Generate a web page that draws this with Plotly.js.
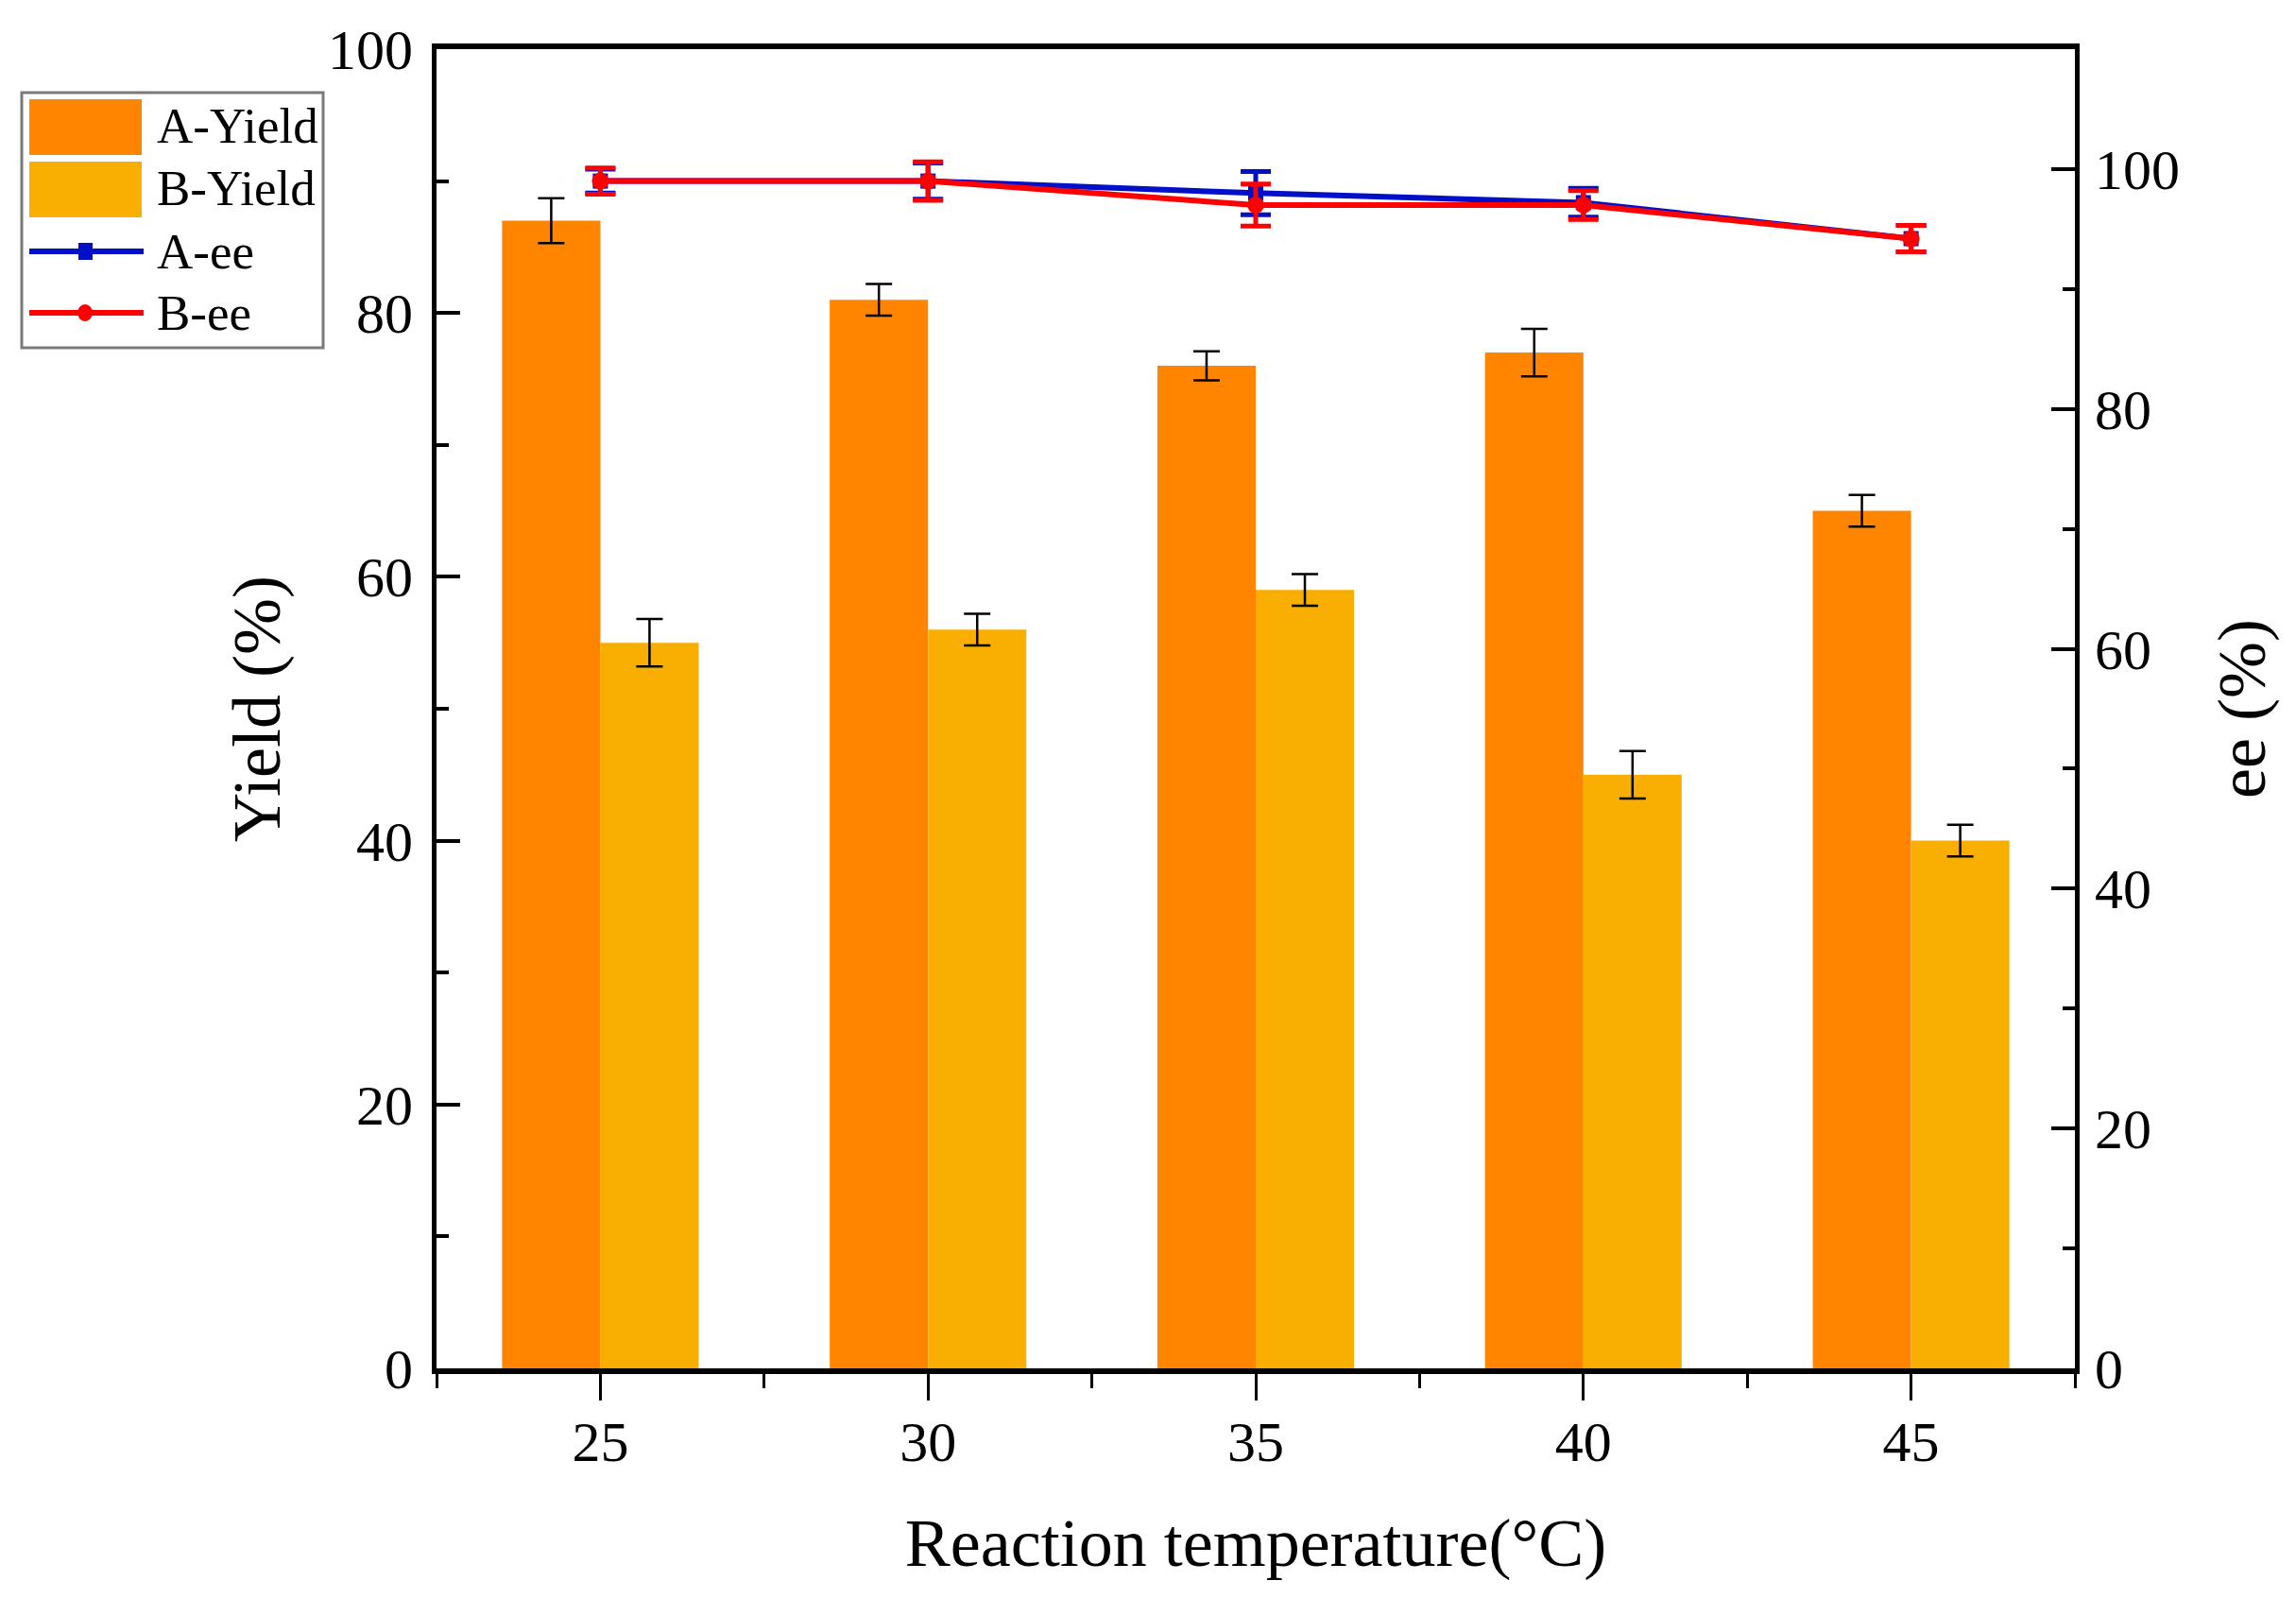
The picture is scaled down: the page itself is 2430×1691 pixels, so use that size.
<!DOCTYPE html>
<html>
<head>
<meta charset="utf-8">
<script src="https://cdn.plot.ly/plotly-3.0.1.min.js"></script>
<style>html,body{margin:0;padding:0;background:#fff;}#chart{width:2430px;height:1691px;}</style>
</head>
<body>
<div id="chart"></div>
<script>
const temperatures = [25, 30, 35, 40, 45];
const aYield = [87, 81, 76, 77, 65];
const aYieldErr = [1.7, 1.2, 1.1, 1.8, 1.2];
const bYield = [55, 56, 59, 45, 40];
const bYieldErr = [1.8, 1.2, 1.2, 1.8, 1.2];
const aEE = [99, 99, 98, 97.2, 94.2];
const aEEErr = [1.0, 1.5, 1.8, 1.2, 1.1];
const bEE = [99, 99, 97, 97, 94.2];
const bEEErr = [1.1, 1.6, 1.75, 1.2, 1.1];
const xTickVals = [25, 30, 35, 40, 45];
const xTickText = ['25', '30', '35', '40', '45'];
const yTickVals = [0, 20, 40, 60, 80, 100];
const y2TickVals = [0, 20, 40, 60, 80, 100];
const legendNames = ['A-Yield', 'B-Yield', 'A-ee', 'B-ee'];

const FONT = 'Liberation Serif, Times New Roman, serif';
const COL_A = '#ff8400', COL_B = '#f9ae02', COL_AEE = '#0010c8', COL_BEE = '#ff0000';

const traces = [
  {
    type: 'bar', name: legendNames[0], x: temperatures, y: aYield,
    marker: {color: COL_A},
    error_y: {type: 'data', array: aYieldErr, visible: true, color: '#000', thickness: 2.5, width: 14},
    xaxis: 'x', yaxis: 'y'
  },
  {
    type: 'bar', name: legendNames[1], x: temperatures, y: bYield,
    marker: {color: COL_B},
    error_y: {type: 'data', array: bYieldErr, visible: true, color: '#000', thickness: 2.5, width: 14},
    xaxis: 'x', yaxis: 'y'
  },
  {
    type: 'scatter', mode: 'lines+markers', name: legendNames[2], x: temperatures, y: aEE,
    line: {color: COL_AEE, width: 6},
    marker: {symbol: 'square', size: 16, color: COL_AEE},
    error_y: {type: 'data', array: aEEErr, visible: true, color: COL_AEE, thickness: 5, width: 16},
    xaxis: 'x', yaxis: 'y2'
  },
  {
    type: 'scatter', mode: 'lines+markers', name: legendNames[3], x: temperatures, y: bEE,
    line: {color: COL_BEE, width: 6},
    marker: {symbol: 'circle', size: 18, color: COL_BEE},
    error_y: {type: 'data', array: bEEErr, visible: true, color: COL_BEE, thickness: 5, width: 16},
    xaxis: 'x', yaxis: 'y2'
  }
];

// legend box drawn in paper space (plot area: x 462..2196 px, y 52..1448 px)
const PX0 = 462, PW = 1734, PY1 = 1448, PH = 1396;
const px = X => (X - PX0) / PW;
const py = Y => (PY1 - Y) / PH;

const shapes = [
  {type: 'rect', xref: 'paper', yref: 'paper', x0: px(23), x1: px(342), y0: py(368), y1: py(98),
   line: {color: '#7a7a7a', width: 3}, fillcolor: '#fff', layer: 'above'},
  {type: 'rect', xref: 'paper', yref: 'paper', x0: px(31), x1: px(150), y0: py(164), y1: py(105),
   line: {width: 0}, fillcolor: COL_A, layer: 'above'},
  {type: 'rect', xref: 'paper', yref: 'paper', x0: px(31), x1: px(150), y0: py(230), y1: py(171),
   line: {width: 0}, fillcolor: COL_B, layer: 'above'},
  {type: 'line', xref: 'paper', yref: 'paper', x0: px(31), x1: px(152), y0: py(266), y1: py(266),
   line: {color: COL_AEE, width: 6}, layer: 'above'},
  {type: 'rect', xref: 'paper', yref: 'paper', x0: px(83), x1: px(98), y0: py(275), y1: py(257),
   line: {width: 0}, fillcolor: COL_AEE, layer: 'above'},
  {type: 'line', xref: 'paper', yref: 'paper', x0: px(31), x1: px(152), y0: py(331), y1: py(331),
   line: {color: COL_BEE, width: 6}, layer: 'above'},
  {type: 'circle', xref: 'paper', yref: 'paper', x0: px(82), x1: px(98), y0: py(340), y1: py(322),
   line: {width: 0}, fillcolor: COL_BEE, layer: 'above'}
];

const legendY = [133, 199, 266, 331];
const annotations = legendNames.map((n, i) => ({
  xref: 'paper', yref: 'paper', x: px(164), y: py(legendY[i]),
  xanchor: 'left', yanchor: 'middle', text: n, showarrow: false,
  font: {family: FONT, size: 53, color: '#000'}
}));

const layout = {
  width: 2430, height: 1691,
  paper_bgcolor: '#fff', plot_bgcolor: '#fff',
  margin: {l: 462, r: 234, t: 52, b: 243, pad: 0},
  font: {family: FONT, size: 60, color: '#000'},
  barmode: 'group', bargap: 0.4, bargroupgap: 0,
  showlegend: false,
  shapes: shapes,
  annotations: annotations,
  xaxis: {
    range: [22.5, 47.5], tickvals: xTickVals, ticktext: xTickText,
    ticks: 'outside', ticklen: 28, tickwidth: 3, tickcolor: '#000',
    minor: {ticks: 'outside', dtick: 2.5, tick0: 22.5, ticklen: 15, tickwidth: 3, tickcolor: '#000'},
    showline: true, linecolor: '#000', linewidth: 6, mirror: true,
    showgrid: false, zeroline: false,
    tickfont: {family: FONT, size: 60, color: '#000'},
    ticklabelstandoff: -8,
    title: {text: 'Reaction temperature(°C)', font: {family: FONT, size: 72, color: '#000'}, standoff: 51},
    automargin: false
  },
  yaxis: {
    range: [0, 100], tickvals: yTickVals,
    ticks: 'inside', ticklen: 25, tickwidth: 4, tickcolor: '#000',
    minor: {ticks: 'inside', dtick: 10, tick0: 0, ticklen: 13, tickwidth: 4, tickcolor: '#000'},
    showline: true, linecolor: '#000', linewidth: 5,
    showgrid: false, zeroline: false,
    tickfont: {family: FONT, size: 60, color: '#000'},
    ticklabelstandoff: 8,
    title: {text: 'Yield (%)', font: {family: FONT, size: 72, color: '#000'}, standoff: 28},
    automargin: false
  },
  yaxis2: {
    overlaying: 'y', side: 'right', anchor: 'x',
    range: [0, 110], tickvals: y2TickVals,
    ticks: 'inside', ticklen: 25, tickwidth: 4, tickcolor: '#000',
    minor: {ticks: 'inside', dtick: 10, tick0: 0, ticklen: 13, tickwidth: 4, tickcolor: '#000'},
    showline: true, linecolor: '#000', linewidth: 5,
    showgrid: false, zeroline: false,
    tickfont: {family: FONT, size: 60, color: '#000'},
    ticklabelstandoff: 4,
    title: {text: 'ee (%)', font: {family: FONT, size: 72, color: '#000'}, standoff: 42},
    automargin: false
  }
};

Plotly.newPlot('chart', traces, layout, {displayModeBar: false, staticPlot: true});
</script>
</body>
</html>
